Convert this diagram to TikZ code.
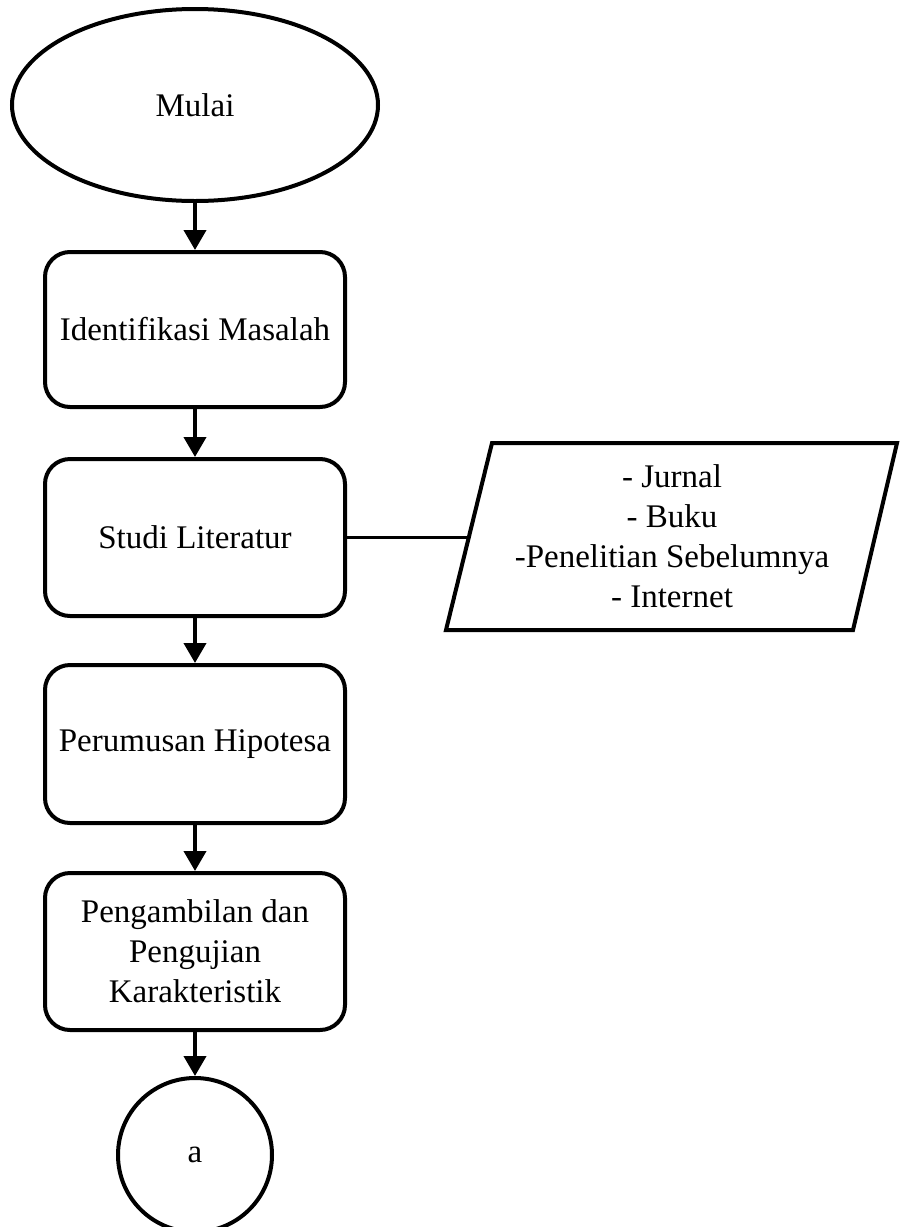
\documentclass[tikz,border=0pt]{standalone}
\usepackage{fontspec}
\setmainfont{Liberation Serif}
\usetikzlibrary{arrows.meta,shapes.geometric}
\begin{document}
\begin{tikzpicture}[x=1pt,y=-1pt,
  every node/.style={font=\fontsize{33}{40}\selectfont},
  proc/.style={draw,line width=4pt,rounded corners=25pt,minimum width=300pt,inner sep=0pt,align=center},
  conn/.style={line width=4pt,-{Triangle[length=20pt,width=22pt]}},
  link/.style={line width=2.5pt}]
\useasboundingbox[fill=white] (0,0) rectangle (900,1227);
\node[draw,ellipse,line width=4pt,minimum width=366pt,minimum height=192pt,inner sep=0pt] (mulai) at (195,105) {Mulai};
\node[proc,minimum height=155pt] (idm) at (195,329.5) {Identifikasi Masalah};
\node[proc,minimum height=157pt] (studi) at (195,537.5) {Studi Literatur};
\node[proc,minimum height=158pt] (hipo) at (195,744) {Perumusan Hipotesa};
\node[proc,minimum height=157pt] (ambil) at (195,951.5) {Pengambilan dan\\Pengujian\\Karakteristik};
\node[draw,circle,line width=4pt,minimum size=154pt,inner sep=0pt] (a) at (195,1155) {a};
\draw[line width=4pt] (492,443) -- (897,443) -- (853,630) -- (446,630) -- cycle;
\node[align=center,inner sep=0pt] (src) at (672,536) {- Jurnal\\- Buku\\-Penelitian Sebelumnya\\- Internet};
\coordinate (srcin) at (469,537.5);
\draw[conn] (mulai.south) -- (idm.north);
\draw[conn] (idm.south) -- (studi.north);
\draw[conn] (studi.south) -- (hipo.north);
\draw[conn] (hipo.south) -- (ambil.north);
\draw[conn] (ambil.south) -- (a.north);
\draw[link] (studi.east) -- (srcin);
\end{tikzpicture}
\end{document}
